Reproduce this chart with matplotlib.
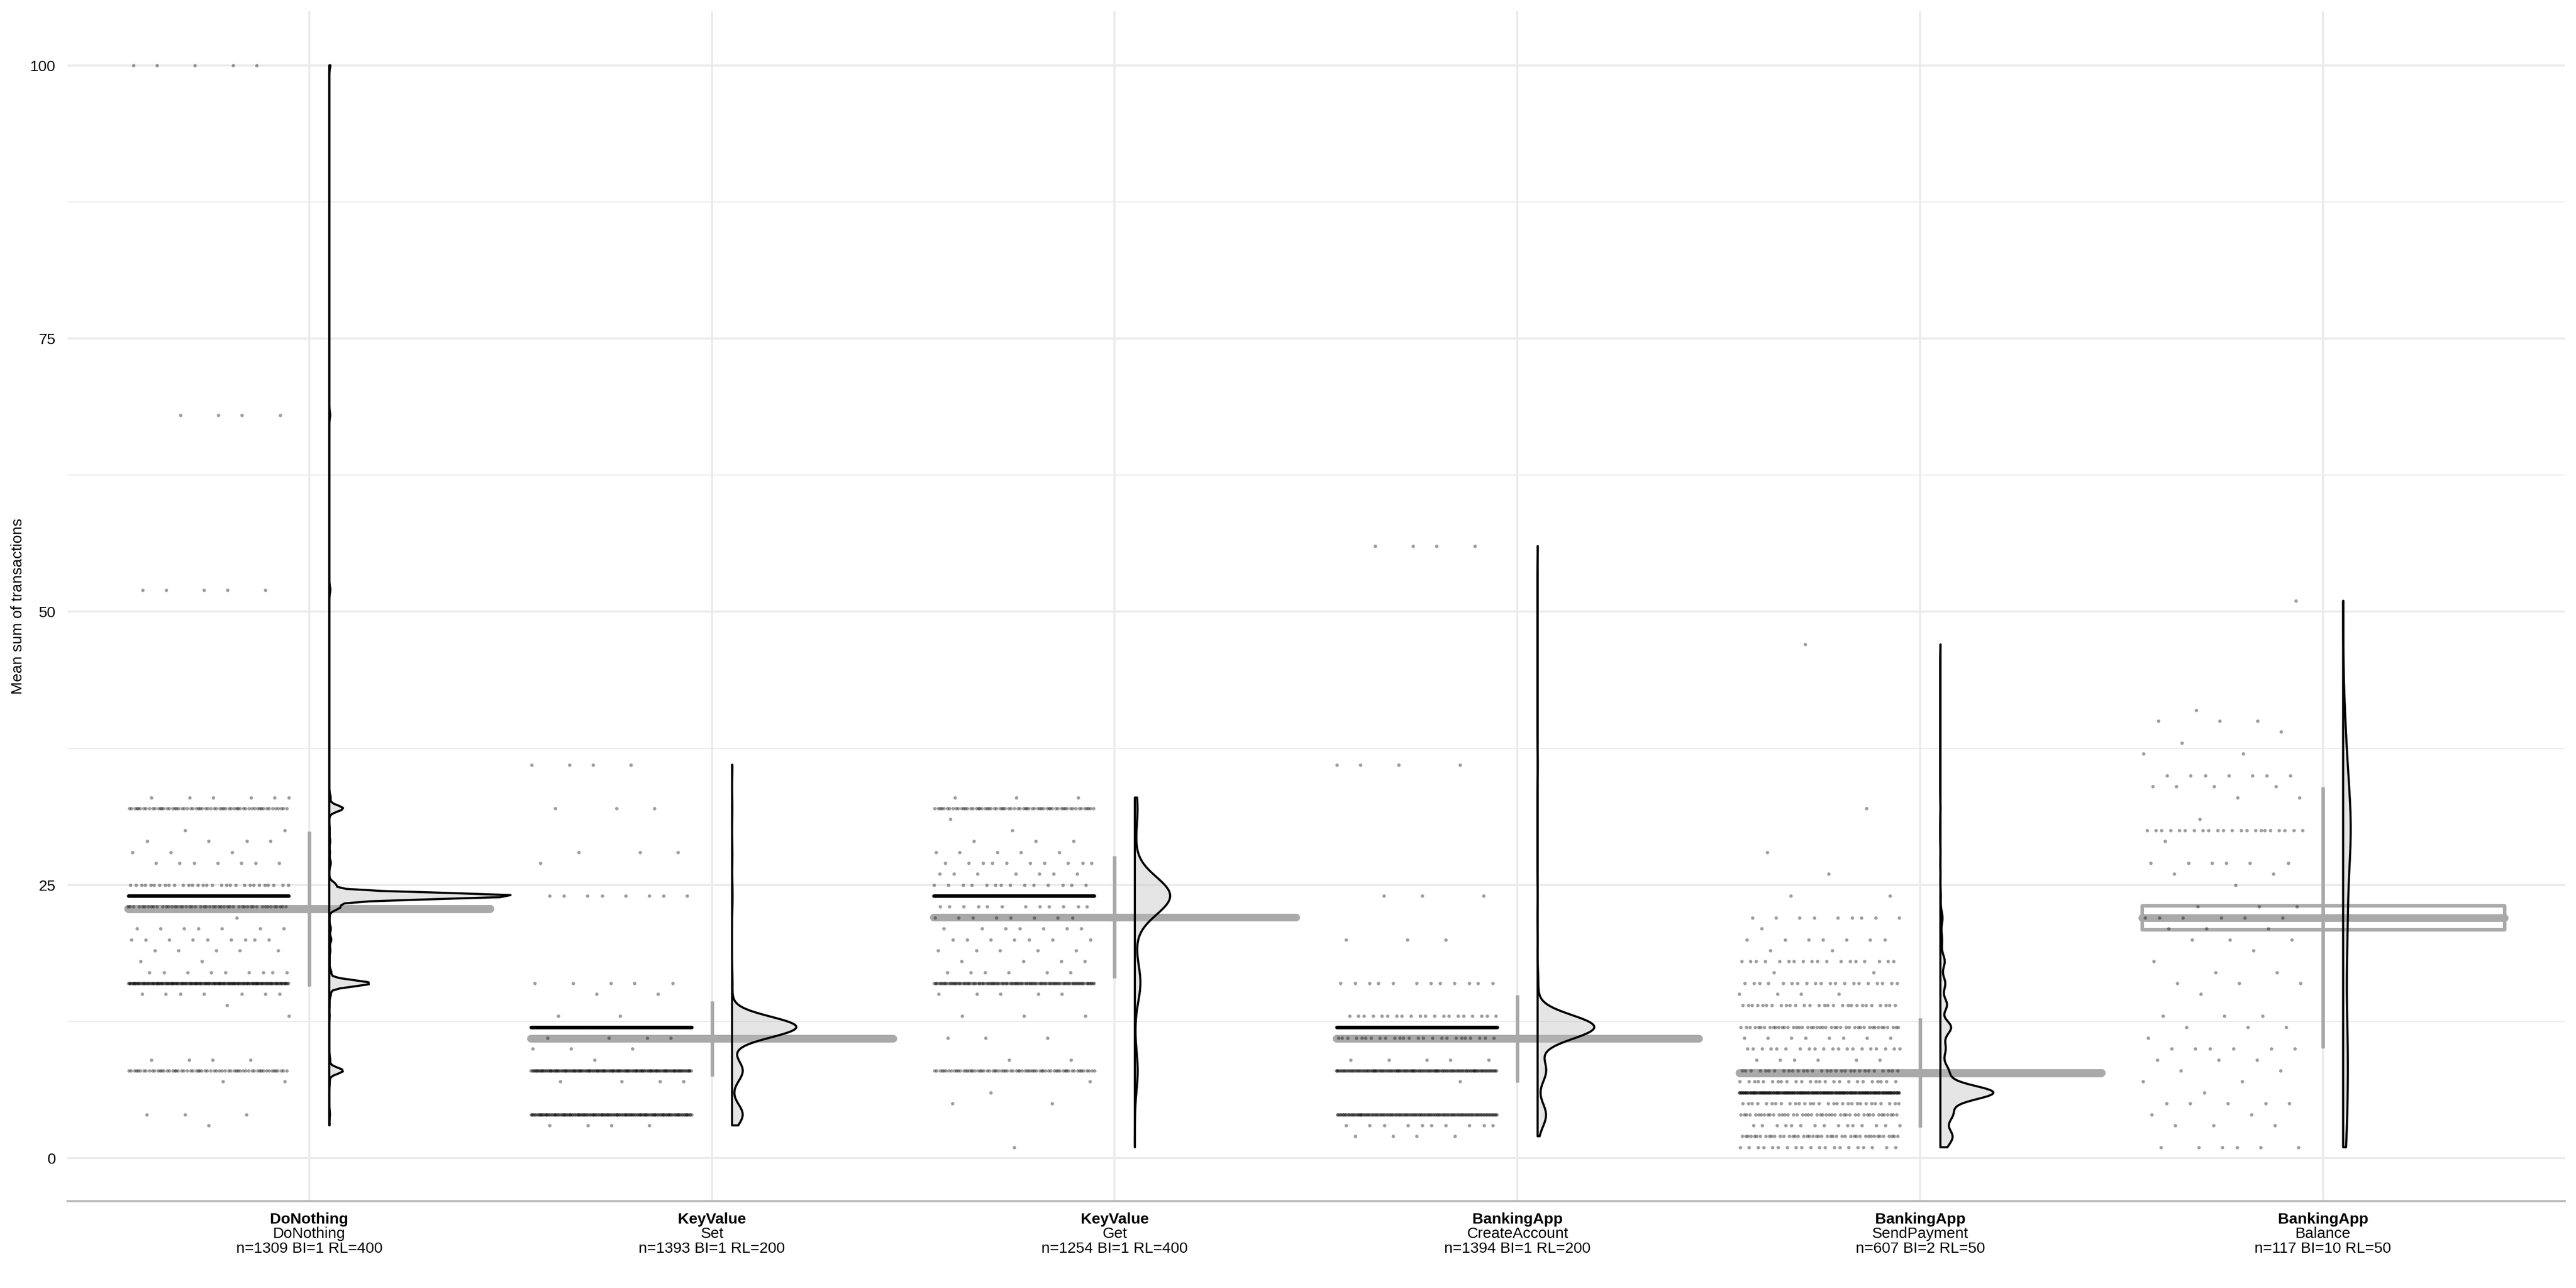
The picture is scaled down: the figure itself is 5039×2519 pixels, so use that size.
# -*- coding: utf-8 -*-
# Raincloud-style chart: jittered runs, half violin, mean +/- sd and mean +/- se
import numpy as np
import matplotlib
matplotlib.use('Agg')
import matplotlib.pyplot as plt
from matplotlib.patches import Rectangle

plt.rcParams['font.family'] = ['Liberation Sans', 'DejaVu Sans']

# %% Data
apps = ['DoNothing', 'KeyValue', 'KeyValue', 'BankingApp', 'BankingApp', 'BankingApp']
operations = ['DoNothing', 'Set', 'Get', 'CreateAccount', 'SendPayment', 'Balance']
n_runs = [1309, 1393, 1254, 1394, 607, 117]
block_interval = [1, 1, 1, 1, 2, 10]
rate_limit = [400, 200, 400, 200, 50, 50]

mean_vals = [22.82, 10.93, 22.06, 10.93, 7.8, 22.0]
sd_vals = [7.1, 3.44, 5.6, 4.02, 5.0, 11.96]

# observed values (levels) and how many runs landed on each
dn_levels = [3, 4, 7, 8, 9, 13, 14, 15, 16, 17, 18, 19, 20, 21, 22, 23, 24, 25, 27, 28, 29, 30, 32, 33, 52, 68, 100]
dn_counts = [1, 3, 2, 62, 4, 1, 1, 7, 185, 9, 2, 5, 9, 7, 1, 50, 830, 30, 7, 3, 4, 2, 62, 6, 5, 4, 5]

set_levels = [3, 4, 7, 8, 9, 10, 11, 12, 13, 15, 16, 24, 27, 28, 32, 36]
set_counts = [4, 165, 4, 165, 1, 3, 4, 1010, 2, 2, 5, 8, 1, 3, 3, 4]

get_levels = [1, 5, 6, 7, 8, 9, 11, 13, 15, 16, 17, 18, 19, 20, 21, 22, 23, 24, 25, 26, 27, 28, 29, 30, 31, 32, 33]
get_counts = [1, 2, 1, 1, 70, 2, 3, 3, 5, 130, 6, 4, 5, 7, 7, 8, 12, 880, 14, 7, 10, 5, 3, 1, 1, 65, 3]

ca_levels = [2, 3, 4, 7, 8, 9, 11, 12, 13, 16, 20, 24, 36, 56]
ca_counts = [4, 10, 145, 1, 150, 5, 25, 1000, 20, 12, 3, 3, 4, 4]

sp_levels = [1, 2, 3, 4, 5, 6, 7, 8, 9, 10, 11, 12, 14, 15, 16, 17, 18, 19, 20, 21, 22, 24, 26, 28, 32, 47]
sp_counts = [20, 45, 15, 45, 30, 220, 25, 30, 6, 20, 8, 45, 28, 4, 20, 2, 18, 2, 7, 1, 9, 2, 1, 1, 1, 1]

bal_levels = [1, 3, 4, 5, 6, 7, 8, 9, 10, 11, 12, 13, 15, 16, 17, 18, 19, 20, 21, 22, 23, 25, 26, 27, 29, 30,
              31, 33, 34, 35, 37, 38, 39, 40, 41, 51]
bal_counts = [6, 3, 2, 5, 1, 2, 2, 3, 6, 1, 3, 3, 1, 3, 2, 1, 1, 3, 3, 6, 3, 1, 2, 6, 1, 22,
              1, 2, 4, 7, 2, 1, 1, 3, 1, 1]

all_levels = [dn_levels, set_levels, get_levels, ca_levels, sp_levels, bal_levels]
all_counts = [dn_counts, set_counts, get_counts, ca_counts, sp_counts, bal_counts]
violin_bw = [0.28, 0.94, 1.7, 1.08, 0.6, 3.5]     # kernel bandwidth per violin


def kde(levels, counts, bw, grid):
    lv = np.asarray(levels, float)
    ct = np.asarray(counts, float)
    z = (grid[:, None] - lv[None, :]) / bw
    return (np.exp(-0.5 * z ** 2) * ct).sum(axis=1) / (ct.sum() * bw * np.sqrt(2 * np.pi))


# %% Plotting
fig = plt.figure(figsize=(5039 / 300, 2519 / 300), dpi=300)
ax = fig.add_axes([0.0262, 0.0673, 0.9694, 0.924])

GRAY = '#A9A9A9'
xs = np.arange(1, len(operations) + 1)

# densities (scale="area": common scaling, widest half-violin = 0.45)
grids, dens = [], []
for lv, ct, bw in zip(all_levels, all_counts, violin_bw):
    g = np.linspace(min(lv), max(lv), 512)
    grids.append(g)
    dens.append(kde(lv, ct, bw, g))
scale = 0.45 / max(d.max() for d in dens)

for i, c in enumerate(xs):
    m, sd = mean_vals[i], sd_vals[i]
    se = sd / np.sqrt(n_runs[i])

    # mean +/- sd
    ax.plot([c, c], [m - sd, m + sd], color=GRAY, lw=1.65, solid_capstyle='butt', zorder=2)
    # mean +/- se crossbar
    ax.add_patch(Rectangle((c - 0.45, m - se), 0.9, 2 * se, facecolor='none', edgecolor=GRAY,
                           lw=1.65, joinstyle='round', zorder=3))
    ax.plot([c - 0.45, c + 0.45], [m, m], color=GRAY, lw=3.6, solid_capstyle='round', zorder=3)

    # half violin
    base = c + 0.05
    ax.fill_betweenx(grids[i], base, base + dens[i] * scale, facecolor='#BEBEBE', alpha=0.4,
                     edgecolor='none', zorder=4)
    ax.fill_betweenx(grids[i], base, base + dens[i] * scale, facecolor='none',
                     edgecolor='black', lw=1.0, zorder=4.1)

    # jittered runs (deterministic spread)
    vals = np.repeat(all_levels[i], all_counts[i])
    k = np.arange(len(vals))
    u = (0.5 + k * 0.6180339887) % 1.0
    ax.scatter(c - 0.25 + (u - 0.5) * 0.4, vals, s=2.6, c='black', alpha=0.38, linewidths=0, zorder=5)

# axes limits like ggplot expansion
lo = min(min(l) for l in all_levels)
hi = max(max(l) for l in all_levels)
pad = (hi - lo) * 0.05
ax.set_ylim(lo - pad, hi + pad)
ax.set_xlim(0.4, len(operations) + 0.6)

ax.set_yticks([0, 25, 50, 75, 100])
ax.set_yticks([12.5, 37.5, 62.5, 87.5], minor=True)
ax.set_xticks(xs)
ax.set_xticklabels([''] * len(xs))
ax.tick_params(axis='both', which='both', length=0)
ax.tick_params(axis='y', labelsize=7.2, labelcolor='black', pad=5.5)
ax.grid(True, which='major', color='#EBEBEB', lw=0.95)
ax.grid(True, which='minor', axis='y', color='#EBEBEB', lw=0.5)
ax.set_axisbelow(True)

for s in ['top', 'right', 'left']:
    ax.spines[s].set_visible(False)
ax.spines['bottom'].set_color('#BEBEBE')
ax.spines['bottom'].set_linewidth(1.0)

# three-line category labels
for i, c in enumerate(xs):
    stats = 'n=%d BI=%d RL=%d' % (n_runs[i], block_interval[i], rate_limit[i])
    for txt, off, wt in [(apps[i], -10.5, 'bold'), (operations[i], -17.2, 'normal'), (stats, -24.1, 'normal')]:
        ax.annotate(txt, xy=(c, 0), xycoords=('data', 'axes fraction'), xytext=(0, off),
                    textcoords='offset points', ha='center', va='baseline', fontsize=7.2,
                    fontweight=wt, color='black')

fig.text(35 / 5039, 0.0673 + 0.924 / 2, 'Mean sum of transactions', rotation=90,
         ha='center', va='center', fontsize=7.2, color='black')

fig.savefig('out.png', dpi=300)
plt.close('all')
